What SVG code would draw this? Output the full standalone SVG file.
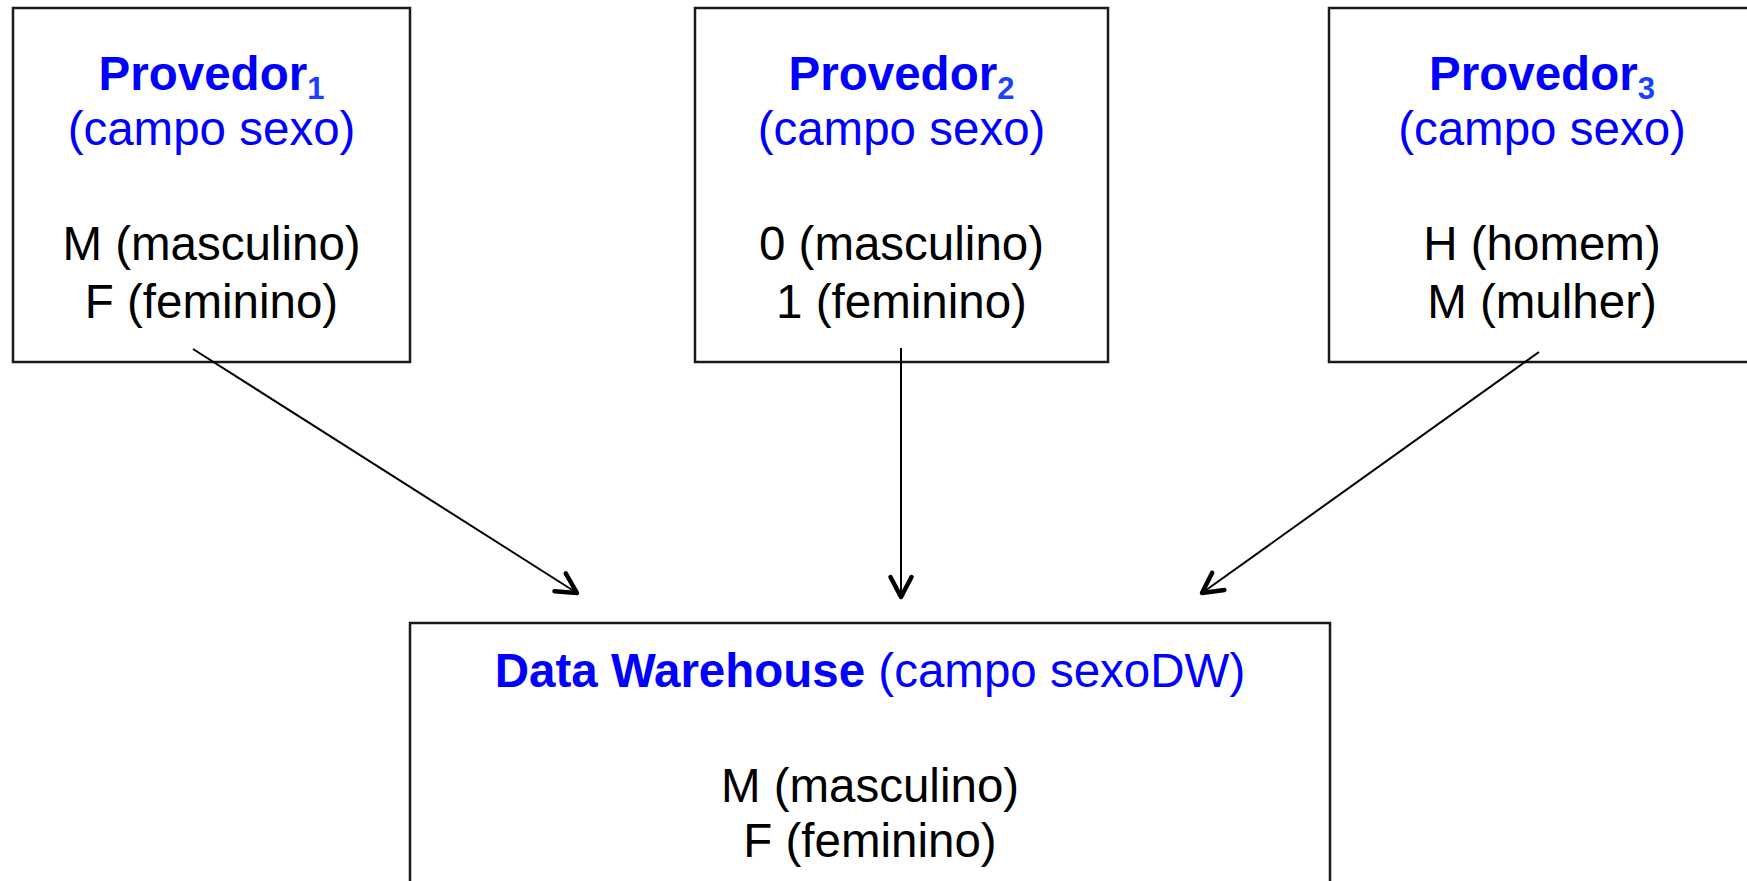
<svg xmlns="http://www.w3.org/2000/svg" width="1747" height="881" viewBox="0 0 1747 881">
<style>
.box{fill:#fff;stroke:#1a1a1a;stroke-width:2.5}
.t{font-family:"Liberation Sans",Arial,sans-serif;font-size:47.5px;text-anchor:middle}
.blue{fill:#0000ff}
.blk{fill:#000}
.b{font-weight:bold}
.sub{font-size:31px;font-weight:bold;fill:#1740ff}
.conn{stroke:#000;stroke-width:2;fill:none;marker-end:url(#arr)}
</style>
<defs>
<marker id="arr" markerUnits="userSpaceOnUse" markerWidth="34" markerHeight="34" viewBox="-28 -17 34 34" refX="0" refY="0" orient="auto">
<path d="M-20,-10.5 L0,0 L-20,10.5" fill="none" stroke="#000" stroke-width="4.5" stroke-linecap="round" stroke-linejoin="round"/>
</marker>
</defs>
<rect width="1747" height="881" fill="#fff"/>
<g id="provedor1">
<rect class="box" x="13" y="8" width="397" height="354"/>
<text class="t blue" x="211.5" y="90"><tspan class="b">Provedor</tspan><tspan class="sub" dy="9">1</tspan></text>
<text class="t blue" x="211.5" y="145">(campo sexo)</text>
<text class="t blk" x="211.5" y="260">M (masculino)</text>
<text class="t blk" x="211.5" y="318">F (feminino)</text>
</g>
<g id="provedor2">
<rect class="box" x="695" y="8" width="413" height="354"/>
<text class="t blue" x="901.5" y="90"><tspan class="b">Provedor</tspan><tspan class="sub" dy="9">2</tspan></text>
<text class="t blue" x="901.5" y="145">(campo sexo)</text>
<text class="t blk" x="901.5" y="260">0 (masculino)</text>
<text class="t blk" x="901.5" y="318">1 (feminino)</text>
</g>
<g id="provedor3">
<rect class="box" x="1329" y="8" width="430" height="354"/>
<text class="t blue" x="1542" y="90"><tspan class="b">Provedor</tspan><tspan class="sub" dy="9">3</tspan></text>
<text class="t blue" x="1542" y="145">(campo sexo)</text>
<text class="t blk" x="1542" y="260">H (homem)</text>
<text class="t blk" x="1542" y="318">M (mulher)</text>
</g>
<g id="datawarehouse">
<rect class="box" x="410" y="623" width="920" height="280"/>
<text class="t blue" x="870" y="687"><tspan class="b">Data Warehouse</tspan> (campo sexoDW)</text>
<text class="t blk" x="870" y="802">M (masculino)</text>
<text class="t blk" x="870" y="857">F (feminino)</text>
</g>
<g id="connectors">
<line class="conn" x1="193" y1="349" x2="577" y2="593"/>
<line class="conn" x1="901" y1="348" x2="901" y2="597"/>
<line class="conn" x1="1539" y1="352" x2="1202" y2="593"/>
</g>
</svg>
